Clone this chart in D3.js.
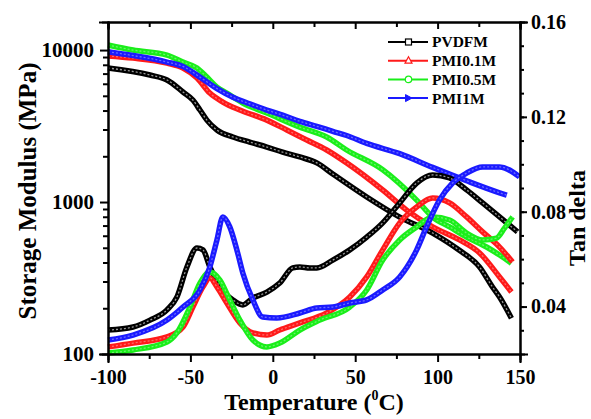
<!DOCTYPE html>
<html>
<head>
<meta charset="utf-8">
<script src="https://cdn.jsdelivr.net/npm/d3@7"></script>
<style>
  html, body { margin: 0; padding: 0; background: #fff; overflow: hidden; }
  svg { display: block; }
  .axis path, .axis line { stroke: #000; stroke-width: 2; }
</style>
</head>
<body>
<svg width="591" height="419" font-family="Liberation Serif" font-weight="bold"></svg>
<script>
// ---- data ----
const seriesNames = ['PVDFM', 'PMI0.1M', 'PMI0.5M', 'PMI1M'];
const seriesColors = ['#000000', '#ff1a1a', '#1aee1a', '#1a1aff'];

const tempTicks = [-100, -50, 0, 50, 100, 150];
const tempMinorTicks = [-75, -25, 25, 75, 125];
const modulusTicks = [100, 1000, 10000];
const tanTicks = [0.04, 0.08, 0.12, 0.16];

// storage modulus [temperature °C, MPa]
const pvdfmModulus = [[-100,7620],[-74.5,6850],[-64.2,6350],[-54.5,5300],[-48.5,4690],[-44.2,4030],[-40,3460],[-33.9,2980],[-24.2,2680],[-14,2480],[-3.6,2300],[6,2130],[16.4,1980],[26.7,1810],[36.4,1530],[57,1080],[77,796],[97,625],[113,483],[125.5,373],[133.3,276],[137.6,237],[144.8,172]];
const pmi01Modulus = [[-100,9140],[-84.8,8850],[-64.2,8200],[-54.5,7620],[-46,6550],[-38.2,5210],[-30.3,4550],[-20,4030],[-3.6,3460],[8.5,2980],[20.6,2560],[32.7,2200],[44.8,1810],[66.7,1200],[81.2,885],[97,686],[113.3,563],[125.5,462],[137.6,321],[144.8,256]];
const pmi05Modulus = [[-100,10800],[-84.8,10000],[-64.2,9270],[-54.5,8340],[-46,7620],[-40,6640],[-33.9,5710],[-27.9,5210],[-18.2,4480],[-3.6,3850],[16.4,3110],[32.7,2680],[44.8,2200],[66.7,1630],[87.3,1030],[97,796],[107.3,686],[117.6,589],[129.7,506],[137.6,448],[144.8,395]];
const pmi1Modulus = [[-100,9750],[-84.8,9200],[-64.2,8340],[-54.5,7800],[-44.2,6640],[-33.9,5580],[-24.2,4900],[-14,4430],[-3.6,4030],[6,3730],[16.4,3400],[26.7,3150],[36.4,2920],[44.8,2740],[57,2430],[77,2080],[97,1690],[117.6,1380],[137.6,1150],[142,1110]];

// tan delta [temperature °C, tan δ]
const pvdfmTan = [[-100,0.0301],[-84.8,0.0314],[-74.5,0.0343],[-64.2,0.0386],[-58.2,0.0440],[-52.1,0.0567],[-46,0.0647],[-42.4,0.0639],[-38.2,0.0567],[-32.1,0.0483],[-24.2,0.0428],[-18.2,0.0407],[-12.1,0.0436],[-3.6,0.0461],[4.2,0.0499],[12.1,0.0563],[16.4,0.0567],[22.4,0.0563],[26.7,0.0563],[36.4,0.0596],[46.7,0.0639],[57,0.0693],[66.7,0.0753],[77,0.0837],[87.3,0.0921],[97,0.0955],[107.3,0.0942],[117.6,0.0892],[127.3,0.0837],[137.6,0.0778],[148.5,0.0715]];
const pmi01Tan = [[-100,0.0230],[-84.8,0.0246],[-64.2,0.0272],[-54.5,0.0314],[-48.5,0.0398],[-42.4,0.0483],[-38.2,0.0521],[-33.9,0.0483],[-27.9,0.0415],[-20,0.0331],[-12.1,0.0289],[-3.6,0.0280],[4.2,0.0301],[16.4,0.0331],[32.7,0.0373],[46.7,0.0440],[57,0.0525],[66.7,0.0639],[77,0.0753],[87.3,0.0820],[97,0.0858],[107.3,0.0837],[117.6,0.0778],[127.3,0.0715],[137.6,0.0651],[145.5,0.0588]];
const pmi05Tan = [[-100,0.0204],[-84.8,0.0217],[-64.2,0.0251],[-58.2,0.0289],[-50.3,0.0398],[-44.2,0.0499],[-38.2,0.0546],[-32.1,0.0512],[-26.1,0.0428],[-20,0.0343],[-12.1,0.0259],[-3.6,0.0230],[4.2,0.0246],[16.4,0.0301],[28.5,0.0343],[46.7,0.0398],[57,0.0470],[66.7,0.0596],[77,0.0681],[87.3,0.0736],[97,0.0778],[107.3,0.0765],[117.6,0.0710],[127.3,0.0681],[135.8,0.0689],[140.6,0.0731],[145.5,0.0778]];
const pmi1Tan = [[-100,0.0259],[-84.8,0.0280],[-64.2,0.0343],[-54.5,0.0398],[-44.2,0.0470],[-38.2,0.0567],[-33.9,0.0681],[-30.3,0.0778],[-26.1,0.0736],[-21.8,0.0639],[-18.2,0.0542],[-12.1,0.0428],[-6.1,0.0356],[2.4,0.0352],[16.4,0.0373],[26.7,0.0394],[36.4,0.0398],[46.7,0.0415],[57,0.0428],[66.7,0.0470],[77,0.0525],[87.3,0.0639],[93.3,0.0736],[101.2,0.0850],[109.1,0.0921],[117.6,0.0963],[127.3,0.0989],[137.6,0.0989],[149.7,0.0947]];

const modulusSeries = [pvdfmModulus, pmi01Modulus, pmi05Modulus, pmi1Modulus];
const tanSeries = [pvdfmTan, pmi01Tan, pmi05Tan, pmi1Tan];

// ---- chart ----
const svg = d3.select('svg');
const margin = { top: 22, right: 71, bottom: 65, left: 108 };
const innerWidth = +svg.attr('width') - margin.left - margin.right;
const innerHeight = +svg.attr('height') - margin.top - margin.bottom;

const g = svg.append('g').attr('transform', `translate(${margin.left},${margin.top})`);

const xScale = d3.scaleLinear().domain([-100, 150]).range([0, innerWidth]);
const yMod = d3.scaleLog().domain([100, 15300]).range([innerHeight, 0]);
const yTan = d3.scaleLinear().domain([0.02, 0.16]).range([innerHeight, 0]);

// curves (drawn first so axes sit on top)
const modLine = d3.line().x(d => xScale(d[0])).y(d => yMod(d[1])).curve(d3.curveMonotoneX);
const tanLine = d3.line().x(d => xScale(d[0])).y(d => yTan(d[1])).curve(d3.curveMonotoneX);

const drawBand = (data, line, i) => {
  g.append('path').attr('d', line(data))
    .attr('fill', 'none').attr('stroke', seriesColors[i]).attr('stroke-width', 5.5)
    .attr('stroke-linejoin', 'round');
  // light inner line mimics the hollow symbols
  g.append('path').attr('d', line(data))
    .attr('fill', 'none').attr('stroke', '#fff').attr('stroke-opacity', i === 0 ? 0.6 : 0.35)
    .attr('stroke-width', 1.3).attr('stroke-dasharray', '2,2');
};
modulusSeries.forEach((s, i) => drawBand(s, modLine, i));
tanSeries.forEach((s, i) => drawBand(s, tanLine, i));

// axes
const fmt = d => d;
const minorMod = d3.range(2, 10).map(k => k * 100).concat(d3.range(2, 10).map(k => k * 1000));

// style an axis group: serif bold labels instead of d3's default sans-serif 10px
const styleAxis = (sel, size) => {
  sel.attr('font-family', 'Liberation Serif').attr('font-size', size).attr('font-weight', 'bold');
  sel.selectAll('.tick text').attr('fill', '#000');
};
// minor ticks carry no labels, so their empty text nodes are dropped
const minor = (sel, axis) => { sel.call(axis); sel.selectAll('.tick text').remove(); };

minor(g.append('g').attr('class', 'axis').attr('transform', `translate(0,${innerHeight})`),
  d3.axisBottom(xScale).tickValues(tempMinorTicks).tickSize(5));
const xAxisBottom = g.append('g').attr('class', 'axis').attr('transform', `translate(0,${innerHeight})`)
  .call(d3.axisBottom(xScale).tickValues(tempTicks).tickSize(8).tickPadding(8).tickFormat(fmt));
styleAxis(xAxisBottom, 20);

minor(g.append('g').attr('class', 'axis'), d3.axisTop(xScale).tickValues(tempMinorTicks).tickSize(-5));
minor(g.append('g').attr('class', 'axis'), d3.axisTop(xScale).tickValues(tempTicks).tickSize(-7));

minor(g.append('g').attr('class', 'axis'), d3.axisLeft(yMod).tickValues(minorMod).tickSize(5));
const yAxisLeft = g.append('g').attr('class', 'axis')
  .call(d3.axisLeft(yMod).tickValues(modulusTicks).tickSize(8).tickPadding(6).tickFormat(fmt));
styleAxis(yAxisLeft, 21);

minor(g.append('g').attr('class', 'axis').attr('transform', `translate(${innerWidth},0)`),
  d3.axisRight(yTan).tickValues(d3.range(3, 16).map(k => k / 100)).tickSize(4));
const yAxisRight = g.append('g').attr('class', 'axis').attr('transform', `translate(${innerWidth},0)`)
  .call(d3.axisRight(yTan).tickValues(tanTicks).tickSize(7).tickPadding(4).tickFormat(d3.format('.2f')));
styleAxis(yAxisRight, 20);

g.selectAll('.axis path.domain').attr('stroke-linecap', 'square');

// axis titles
const xTitle = g.append('text').attr('x', innerWidth / 2).attr('y', innerHeight + 56)
  .attr('text-anchor', 'middle').attr('font-size', 24);
xTitle.append('tspan').text('Temperature (');
xTitle.append('tspan').attr('font-size', 14).attr('dy', -10).text('0');
xTitle.append('tspan').attr('dy', 10).text('C)');

svg.append('text').attr('transform', 'translate(36,191) rotate(-90)')
  .attr('text-anchor', 'middle').attr('font-size', 25).text('Storage Modulus (MPa)');

svg.append('text').attr('transform', 'translate(585,218) rotate(-90)')
  .attr('text-anchor', 'middle').attr('font-size', 24).text('Tan delta');

// legend
const legend = svg.append('g').attr('transform', 'translate(388,42)');
seriesNames.forEach((name, i) => {
  const row = legend.append('g').attr('transform', `translate(0,${i * 18.7})`);
  row.append('line').attr('x1', 0).attr('x2', 40).attr('stroke', seriesColors[i]).attr('stroke-width', 2);
  const c = seriesColors[i];
  if (i === 0) row.append('rect').attr('x', 17.5).attr('y', -3).attr('width', 6).attr('height', 6)
    .attr('fill', '#fff').attr('stroke', c).attr('stroke-width', 1.2);
  if (i === 1) row.append('path').attr('d', 'M20.5,-4L24,2.5L17,2.5Z').attr('fill', '#fff').attr('stroke', c).attr('stroke-width', 1.2);
  if (i === 2) row.append('circle').attr('cx', 20.5).attr('cy', 0).attr('r', 3.2).attr('fill', '#fff').attr('stroke', c).attr('stroke-width', 1.2);
  if (i === 3) row.append('path').attr('d', 'M24,0L17.5,-3.5L17.5,3.5Z').attr('fill', c).attr('stroke', c).attr('stroke-width', 1);
  row.append('text').attr('x', 44).attr('dy', '0.35em').attr('font-size', 15.5).text(name);
});
</script>
</body>
</html>
